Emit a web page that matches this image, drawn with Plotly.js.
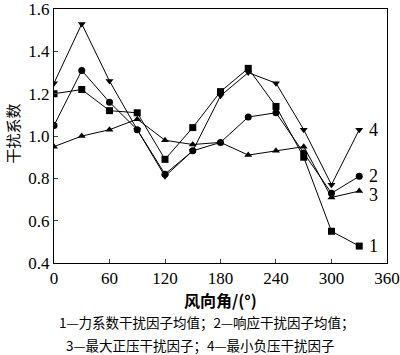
<!DOCTYPE html>
<html><head><meta charset="utf-8">
<script src="https://cdn.plot.ly/plotly-3.0.1.min.js"></script>
<style>body{margin:0;background:#fff}#c{width:400px;height:355px}</style>
</head><body><div id="c"></div>
<script>
const angles = [0,30,60,90,120,150,180,210,240,270,300,330];
const s1 = [1.20,1.22,1.12,1.11,0.89,1.04,1.21,1.32,1.14,0.90,0.55,0.48];
const s2 = [1.05,1.31,1.16,1.03,0.82,0.93,0.97,1.09,1.11,0.92,0.73,0.81];
const s3 = [0.95,1.00,1.03,1.08,0.98,0.96,0.97,0.91,0.93,0.95,0.71,0.74];
const s4 = [1.25,1.53,1.26,1.03,0.81,0.93,1.19,1.30,1.25,1.03,0.77,1.03];
const seriesNames = ['1','2','3','4'];
const symbols = ['square','circle','triangle-up','triangle-down'];
const yTicks = [0.4,0.6,0.8,1.0,1.2,1.4,1.6];
const yTickText = ['0.4','0.6','0.8','1.0','1.2','1.4','1.6'];
const xTicks = [0,60,120,180,240,300,360];
const legendLines = ['1—力系数干扰因子均值；2—响应干扰因子均值；','3—最大正压干扰因子；4—最小负压干扰因子'];
const xTitle = '风向角/(°)';
const yTitle = '干扰系数';

const data = [s1,s2,s3,s4].map((s,i)=>({
  x: angles, y: s, type:'scatter', mode:'lines+markers', name: seriesNames[i],
  line:{color:'#000',width:1},
  marker:{symbol:symbols[i],size:7,color:'#000'}
}));
const serif = 'Liberation Serif, Tinos, Times New Roman, DejaVu Serif, serif';
const cjk = 'Noto Sans CJK SC, sans-serif';
const endLabel = (i, s, dy) => ({xref:'x',yref:'y',x:angles[angles.length-1],y:s[s.length-1],xshift:14,yshift:dy,
  text:seriesNames[i],showarrow:false,font:{family:serif,size:18,color:'#000'},xanchor:'center',yanchor:'middle'});
const layout = {
  width:400,height:355,
  margin:{l:54,r:13,t:9,b:92},
  showlegend:false,
  font:{family:serif},
  paper_bgcolor:'#fff',plot_bgcolor:'#fff',
  xaxis:{range:[0,360.01],tickvals:xTicks,ticks:'inside',ticklen:4,
    showline:true,mirror:true,linecolor:'#000',linewidth:1,showgrid:false,zeroline:false,
    tickfont:{family:serif,size:17,color:'#000'}},
  yaxis:{range:[0.4,1.6005],tickvals:yTicks,ticktext:yTickText,
    ticks:'inside',ticklen:4,
    showline:true,mirror:true,linecolor:'#000',linewidth:1,showgrid:false,zeroline:false,
    tickfont:{family:serif,size:17,color:'#000'}},
  annotations:[
    endLabel(0,s1,0), endLabel(1,s2,0), endLabel(2,s3,-4), endLabel(3,s4,0),
    {xref:'paper',yref:'paper',x:0.5,y:-0.146,yanchor:'middle',xanchor:'center',text:xTitle,showarrow:false,font:{family:cjk,size:16,color:'#000',weight:'bold'}},
    {xref:'paper',yref:'paper',x:0.46,y:-0.232,yanchor:'middle',xanchor:'center',text:legendLines[0],showarrow:false,font:{family:cjk,size:13.5,color:'#000'}},
    {xref:'paper',yref:'paper',x:0.44,y:-0.323,yanchor:'middle',xanchor:'center',text:legendLines[1],showarrow:false,font:{family:cjk,size:13.5,color:'#000'}},
    {xref:'paper',yref:'paper',x:-0.126,y:0.51,xanchor:'center',yanchor:'middle',textangle:-90,text:yTitle,showarrow:false,font:{family:cjk,size:15,color:'#000'}}
  ]
};
Plotly.newPlot('c',data,layout,{staticPlot:true});
</script></body></html>
